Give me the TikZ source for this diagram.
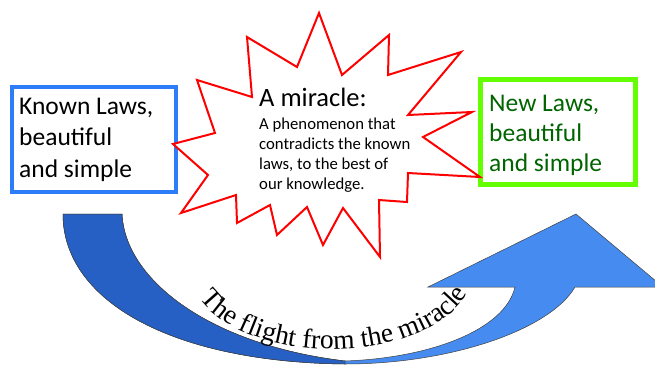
\documentclass[tikz,border=0pt]{standalone}
\usepackage{fontspec}
\setmainfont{Carlito}
\newfontfamily\flightfont{Liberation Serif}
\usetikzlibrary{decorations.text}

\definecolor{knownblue}{RGB}{45,125,250}
\definecolor{newgreen}{RGB}{100,255,0}
\definecolor{newtext}{RGB}{0,100,0}
\definecolor{arrowdark}{RGB}{38,96,196}
\definecolor{arrowlight}{RGB}{70,140,240}

\begin{document}
\begin{tikzpicture}[x=1pt,y=-1pt,
    lawbox/.style={line width=4pt},
    lawtext/.style={anchor=base west,inner sep=0pt,align=left},
    arrowpart/.style={draw=black!75,line width=0.5pt,line join=miter}]
    \useasboundingbox (0,0) rectangle (655,364);

    % key points of the curved arrow
    \coordinate (tailL) at (63,214);
    \coordinate (tailR) at (122,214);
    \coordinate (botO) at (345,364);
    \coordinate (botI) at (345,361);
    \coordinate (headO) at (575,287);
    \coordinate (headI) at (515,287);
    \coordinate (barbL) at (428,287);
    \coordinate (barbR) at (663,287);
    \coordinate (tip) at (576,214);
    \coordinate (arcC) at (332,270); % centre of the text arc

    % curved arrow, front part
    \filldraw[arrowpart, fill=arrowlight] (tailL) .. controls (63,300) and (170,362) .. (botO)
        .. controls (450,364) and (550,330) .. (headO) -- (barbR) -- (tip) -- (barbL) -- (headI)
        .. controls (505,330) and (430,358) .. (botI)
        .. controls (210,345) and (125,280) .. (tailR) -- cycle;

    % curved arrow, back part
    \filldraw[arrowpart, fill=arrowdark] (tailL) .. controls (63,300) and (170,362) .. (botO)
        -- (botI) .. controls (210,345) and (125,280) .. (tailR) -- cycle;

    % text along the arrow
    \path[decorate, decoration={text along path, text align=center,
        text={|\flightfont\fontsize{27.5}{28}\selectfont|The flight from the miracle}}]
        (arcC) ++(160:142 and 79) arc[start angle=160, end angle=16, x radius=142, y radius=79];

    % boxes
    \draw[lawbox, knownblue] (12,87) rectangle (176,192);
    \draw[lawbox, newgreen, line width=5pt] (480.5,79.5) rectangle (635.5,184.5);

    % star
    \draw[red, line width=2pt, fill=white, line join=miter]
        (319,13) -- (342,75) -- (389,35) -- (388,75) -- (461,52) -- (408,115)
        -- (472,112) -- (423,137) -- (480,177) -- (408,173) -- (407,202)
        -- (379,200) -- (380,257) -- (343,208) -- (323,245) -- (307,207)
        -- (277,235) -- (270,205) -- (237,223) -- (236,195) -- (181,213)
        -- (208,175) -- (173,144) -- (215,133) -- (197,80) -- (252,97)
        -- (247,37) -- (297,67) -- cycle;

    % texts (anchored at the last baseline)
    \node[lawtext, font=\fontsize{25.5}{31.5}\selectfont] (known) at (19,177)
        {Known Laws,\\beautiful\\and simple};
    \node[lawtext, text=newtext, font=\fontsize{25.5}{30}\selectfont] (new) at (489,171)
        {New Laws,\\beautiful\\and simple};
    \node[lawtext, font=\fontsize{26.5}{30}\selectfont] (miracle) at (259,106) {A miracle:};
    \node[lawtext, font=\fontsize{16.7}{20}\selectfont] (phenom) at (259,189)
        {A phenomenon that\\contradicts the known\\laws, to the best of\\our knowledge.};

\end{tikzpicture}
\end{document}
